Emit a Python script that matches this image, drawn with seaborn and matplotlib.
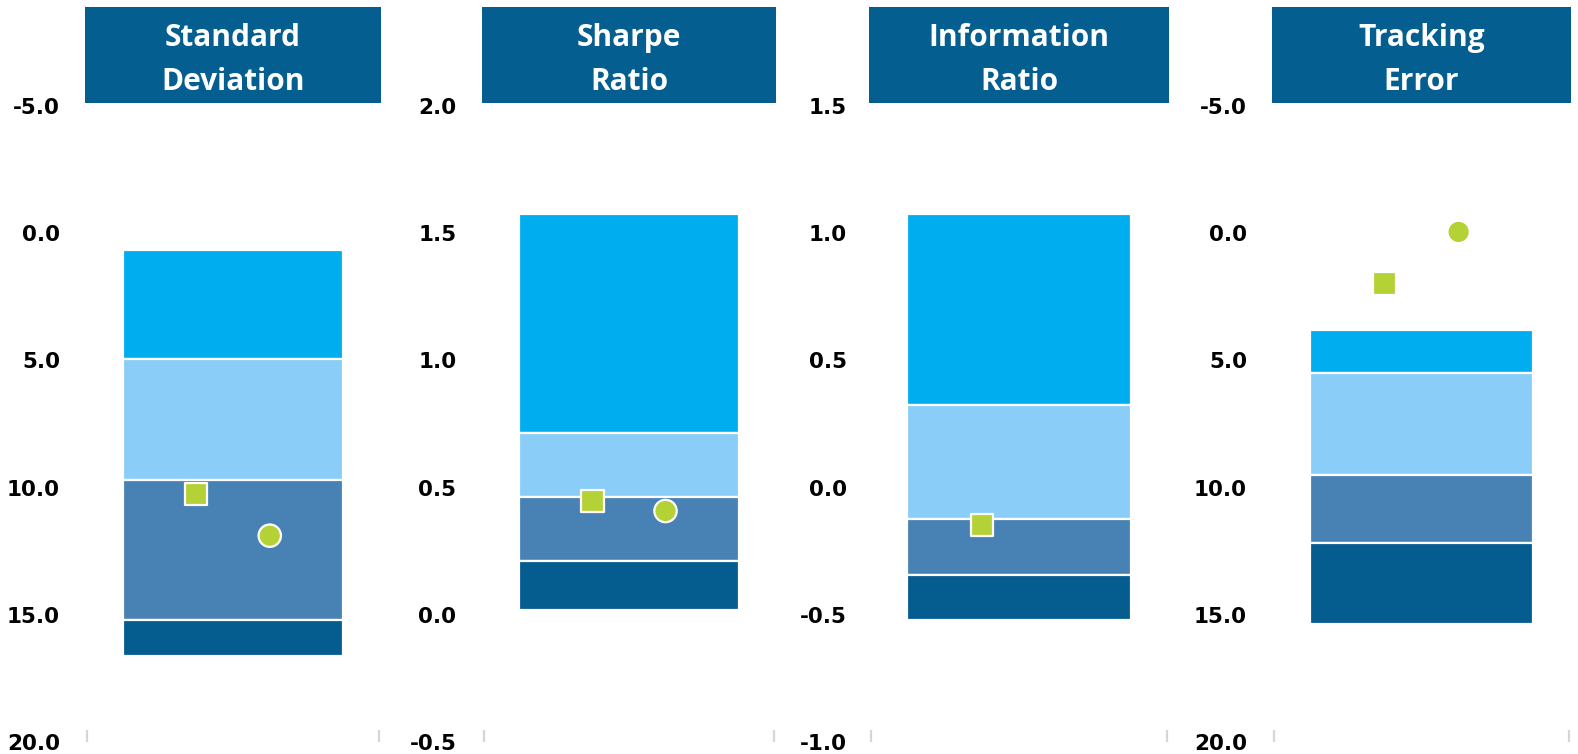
import numpy as np
import pandas as pd
import matplotlib
matplotlib.use("Agg")
import matplotlib.pyplot as plt
from matplotlib.patches import Rectangle
from matplotlib.ticker import FuncFormatter
import seaborn as sns

# ---------------- data ----------------
metrics = ["Standard\nDeviation", "Sharpe\nRatio", "Information\nRatio", "Tracking\nError"]

# quartile band boundaries (top of chart band -> bottom band)
sd_bounds = [0.66, 4.93, 9.70, 15.20, 16.62]
sharpe_bounds = [1.575, 0.715, 0.463, 0.212, 0.019]
ir_bounds = [1.075, 0.325, -0.123, -0.344, -0.52]
te_bounds = [3.80, 5.50, 9.50, 12.18, 15.36]

fund_values = [10.25, 0.447, -0.147, 1.97]          # square markers
benchmark_values = [11.89, 0.408, np.nan, -0.05]     # circle markers

sd_ticks = [-5.0, 0.0, 5.0, 10.0, 15.0, 20.0]
sharpe_ticks = [-0.5, 0.0, 0.5, 1.0, 1.5, 2.0]
ir_ticks = [-1.0, -0.5, 0.0, 0.5, 1.0, 1.5]
te_ticks = [-5.0, 0.0, 5.0, 10.0, 15.0, 20.0]

# ---------------- style ----------------
sns.set_theme(style="white")
plt.rcParams["font.family"] = ["DejaVu Sans"]

band_colors = ["#00AEEF", "#89CDF8", "#4882B4", "#045C8F"]
title_bg = "#045E8F"
marker_color = "#B4D235"

all_bounds = [sd_bounds, sharpe_bounds, ir_bounds, te_bounds]
all_ticks = [sd_ticks, sharpe_ticks, ir_ticks, te_ticks]
inverted = [True, False, False, True]

W, H = 1578, 754
fig = plt.figure(figsize=(W / 100, H / 100), dpi=100)

panel_left_px = [85, 482, 869, 1272]
panel_w_px = [296, 294, 300, 299]
label_pad = [18.0, 18.5, 16.0, 18.0]
ax_top_px, ax_bot_px = 106, 742
bar_w = 0.745

for i, metric in enumerate(metrics):
    ax = fig.add_axes([panel_left_px[i] / W, (H - ax_bot_px) / H,
                       panel_w_px[i] / W, (ax_bot_px - ax_top_px) / H])
    b = all_bounds[i]
    # floating quartile bands
    for k in range(4):
        ax.bar(0.5, b[k + 1] - b[k], bottom=b[k], width=bar_w,
               color=band_colors[k], edgecolor="white", linewidth=1.6, zorder=2)

    x0 = 0.5 - bar_w / 2
    df = pd.DataFrame({
        "x": [x0 + bar_w / 3, x0 + 2 * bar_w / 3],
        "y": [fund_values[i], benchmark_values[i]],
        "kind": ["Fund", "Benchmark"],
    }).dropna()
    sns.scatterplot(data=df, x="x", y="y", style="kind",
                    markers={"Fund": "s", "Benchmark": "o"},
                    style_order=["Fund", "Benchmark"],
                    s=260, color=marker_color, edgecolor="white",
                    linewidth=1.6, legend=False, ax=ax, zorder=3, clip_on=False)

    t = all_ticks[i]
    ax.set_xlim(0, 1)
    if inverted[i]:
        ax.set_ylim(max(t), min(t))
    else:
        ax.set_ylim(min(t), max(t))
    ax.set_yticks(t)
    ax.yaxis.set_major_formatter(FuncFormatter(lambda v, p: f"{v:.1f}"))
    ax.tick_params(axis="y", length=0, pad=label_pad[i],
                   labelsize=15.5, labelcolor="black")
    for lab in ax.get_yticklabels():
        lab.set_fontweight("bold")
    ax.set_xticks([0.006, 0.994])
    ax.set_xticklabels(["", ""])
    ax.tick_params(axis="x", direction="in", length=9, width=1.6,
                   color="#D6D6D6", bottom=True)
    ax.set_xlabel("")
    ax.set_ylabel("")
    for s in ax.spines.values():
        s.set_visible(False)

    # title box
    y_lo = (ax_bot_px - 103) / (ax_bot_px - ax_top_px)
    y_hi = (ax_bot_px - 7) / (ax_bot_px - ax_top_px)
    ax.add_patch(Rectangle((0, y_lo), 1, y_hi - y_lo, transform=ax.transAxes,
                           facecolor=title_bg, edgecolor="none", clip_on=False, zorder=5))
    lines = metric.split("\n")
    base_px = [46, 90]
    for ln, bp in zip(lines, base_px):
        ax.text(0.5, (ax_bot_px - bp) / (ax_bot_px - ax_top_px), ln,
                transform=ax.transAxes, ha="center", va="baseline",
                color="white", fontsize=21.5, fontweight="bold",
                family=["Open Sans", "DejaVu Sans"], zorder=6)

fig.savefig("out.png", dpi=100, facecolor="white")
